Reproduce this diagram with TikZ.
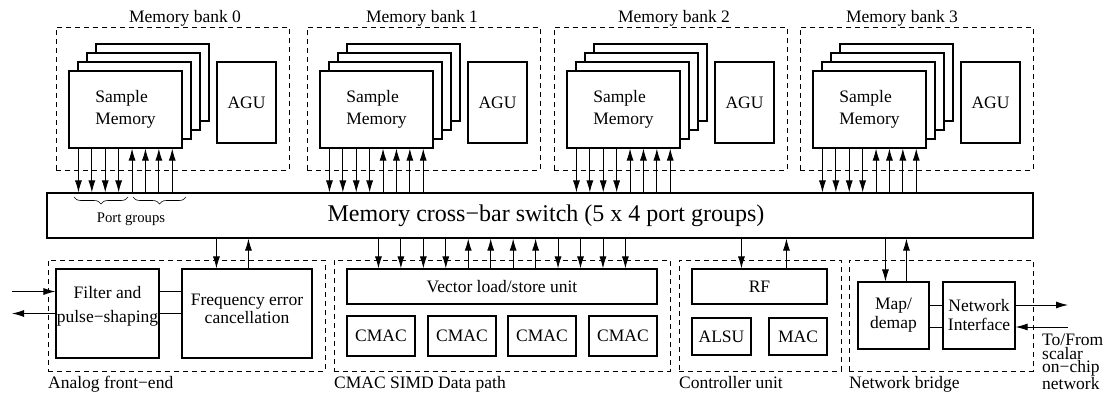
\documentclass[tikz,border=0pt]{standalone}
\usepackage{fontspec}
\setmainfont{Liberation Serif}
\usetikzlibrary{arrows.meta,positioning,decorations.pathreplacing}

\begin{document}
\begin{tikzpicture}[x=1pt,y=-1pt,
                    box/.style={draw,line width=1.1pt,fill=white,inner sep=0pt,align=center,font=\fontsize{17.5}{22}\selectfont},
                    grp/.style={draw,dash pattern=on 5pt off 4pt,line width=0.8pt,inner sep=0pt},
                    txt/.style={inner sep=0pt,font=\fontsize{17.5}{22}\selectfont},
                    arr/.style={-{Latex[length=12pt,width=7pt]},line width=0.9pt}]
                      \useasboundingbox (0,0) rectangle (1108,394);

                      \foreach \b/\dx/\lx in {0/0/185,1/251/422,2/498/674,3/744/902}{
                        \node[grp,minimum width=233pt,minimum height=143pt] (bk\b) at (172.5+\dx,98.5) {};
                        \node[txt,anchor=base] (bkl\b) at (\lx,22) {Memory bank \b};
                        \foreach \s in {27,18,9}
                          \node[box,minimum width=113pt,minimum height=77pt] (sm\b-\s) at (125.5+\dx+\s,109.5-\s) {};
                        \node[box,minimum width=113pt,minimum height=77pt,align=left] (sm\b) at (125.5+\dx,109.5) {Sample\\Memory};
                        \node[box,minimum width=59pt,minimum height=81pt] (agu\b) at (246.5+\dx,102.5) {AGU};
                      }

                      \node[box,minimum width=986pt,minimum height=45pt,font=\fontsize{24}{28}\selectfont] (sw) at (540,215.5) {\hspace*{12pt}Memory cross−bar switch (5 x 4 port groups)};
                      \draw[decorate,decoration={brace,amplitude=7pt},line width=0.6pt] (128,197) -- (74,197);
                      \draw[decorate,decoration={brace,amplitude=7pt},line width=0.6pt] (186,197) -- (133,197);
                      \node[txt,font=\fontsize{14.7}{16}\selectfont] (pg) at (131,219) {Port groups};

                      \foreach \b in {0,...,3}{
                        \foreach \i in {0,...,3}{
                          \path (sm\b.south west) ++(10+13.4*\i,0) coordinate (q);
                          \draw[arr] (q) -- (q |- sw.north);}
                        \foreach \i in {4,...,7}{
                          \path (sm\b.south west) ++(10+13.4*\i,0) coordinate (q);
                          \draw[arr] (q |- sw.north) -- (q);}
                      }

                      \node[grp,minimum width=277pt,minimum height=111pt] (afe) at (186.5,315.5) {};
                      \node[box,minimum width=103pt,minimum height=89pt,font=\fontsize{17.5}{24}\selectfont] (fil) at (107.5,313.5) {Filter and\\pulse−shaping\\[-6pt]};
                      \node[box,minimum width=130pt,minimum height=89pt,font=\fontsize{17.5}{18}\selectfont] (fec) at (247,313.5) {Frequency error\\cancellation\\[-8pt]};
                      \node[txt,anchor=base west] (afel) at (48,388) {Analog front−end};
                      \draw[line width=0.9pt] ([yshift=22pt]fil.east) -- ([yshift=22pt]fec.west);
                      \draw[line width=0.9pt] (fil.east) -- (fec.west);
                      \coordinate (ain) at (12,291.5);
                      \coordinate (aout) at (12,313.5);
                      \draw[arr] (ain) -- ([yshift=22pt]fil.west);
                      \draw[arr] (fil.west) -- (aout);
                      \path (fec.north west) ++(35,0) coordinate (q);
                      \draw[arr] (q |- sw.south) -- (q);
                      \path (fec.north west) ++(67,0) coordinate (q);
                      \draw[arr] (q) -- (q |- sw.south);

                      \node[grp,minimum width=336pt,minimum height=111pt] (simd) at (502,315.5) {};
                      \node[box,minimum width=310pt,minimum height=35pt] (vl) at (502,286.5) {Vector load/store unit};
                      \foreach \c/\x in {1/381,2/462,3/542,4/623}
                        \node[box,minimum width=68pt,minimum height=40pt] (cm\c) at (\x,336) {CMAC};
                      \node[txt,anchor=base west] (simdl) at (334,388) {CMAC SIMD Data path};
                      \foreach \i in {0,1,2,3,8,9,10,11}{
                        \path (vl.north west) ++(32+22.45*\i,0) coordinate (q);
                        \draw[arr] (q |- sw.south) -- (q);}
                      \foreach \i in {4,...,7}{
                        \path (vl.north west) ++(32+22.45*\i,0) coordinate (q);
                        \draw[arr] (q) -- (q |- sw.south);}

                      \node[grp,minimum width=162pt,minimum height=111pt] (cu) at (760,315.5) {};
                      \node[box,minimum width=135pt,minimum height=35pt] (rf) at (759.5,286.5) {RF};
                      \node[box,minimum width=59pt,minimum height=37pt] (alsu) at (721.5,336.5) {ALSU};
                      \node[box,minimum width=58pt,minimum height=37pt] (mac) at (798,336.5) {MAC};
                      \node[txt,anchor=base west] (cul) at (679,388) {Controller unit};
                      \path (rf.north west) ++(50,0) coordinate (q);
                      \draw[arr] (q |- sw.south) -- (q);
                      \path (rf.north west) ++(95,0) coordinate (q);
                      \draw[arr] (q) -- (q |- sw.south);

                      \node[grp,minimum width=184pt,minimum height=111pt] (nb) at (941,315.5) {};
                      \node[box,minimum width=71pt,minimum height=67pt,font=\fontsize{17.5}{19}\selectfont] (map) at (893.5,315.5) {Map/\\demap};
                      \node[box,minimum width=72pt,minimum height=67pt,font=\fontsize{17.5}{19}\selectfont] (ni) at (979,315.5) {Network\\Interface};
                      \node[txt,anchor=base west] (nbl) at (849,388) {Network bridge};
                      \draw[line width=0.9pt] ([yshift=10.5pt]map.east) -- ([yshift=10.5pt]ni.west);
                      \draw[line width=0.9pt] ([yshift=-11.5pt]map.east) -- ([yshift=-11.5pt]ni.west);
                      \path (map.north west) ++(28,0) coordinate (q);
                      \draw[arr] (q |- sw.south) -- (q);
                      \path (map.north west) ++(49,0) coordinate (q);
                      \draw[arr] (q) -- (q |- sw.south);
                      \coordinate (nout) at (1068,305);
                      \coordinate (nin) at (1068,327);
                      \draw[arr] ([yshift=10.5pt]ni.east) -- (nout);
                      \draw[arr] (nin) -- ([yshift=-11.5pt]ni.east);
                      \node[txt,align=left,anchor=north west,font=\fontsize{17.5}{13.5}\selectfont] (tf) at (1042,334) {To/From\\scalar\\on−chip\\network};
                    \end{tikzpicture}
\end{document}
